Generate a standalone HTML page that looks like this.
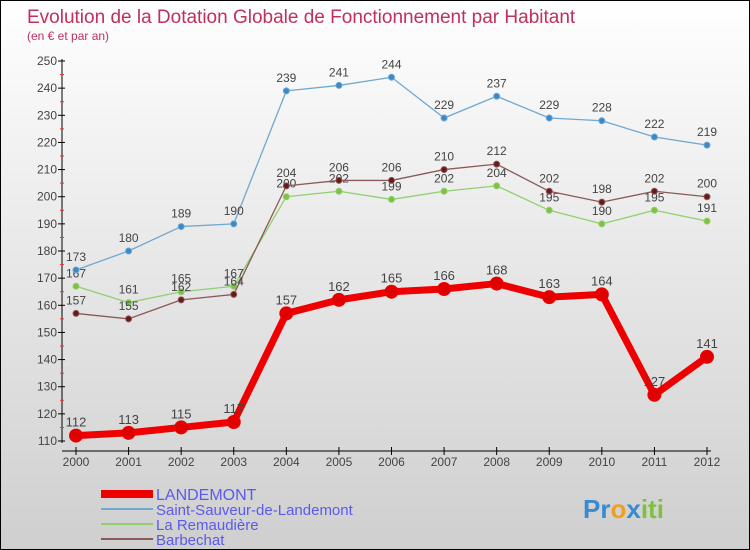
<!DOCTYPE html>
<html><head><meta charset="utf-8"><style>
body{margin:0}
#c{width:750px;height:550px;position:relative;box-sizing:border-box;border:1px solid #000;background:linear-gradient(#fff,#f0f0f0 30%,#cfcfcf);font-family:"Liberation Sans",sans-serif;overflow:hidden}
</style></head><body>
<div id="c">
<svg id="s" width="750" height="550" style="position:absolute;left:0;top:0">
<text x="26" y="22" font-size="19" fill="#c0305a">Evolution de la Dotation Globale de Fonctionnement par Habitant</text>
<text x="26" y="39" font-size="12" fill="#c0305a">(en € et par an)</text>
<line x1="61" y1="58" x2="61" y2="442" stroke="#000"/>
<line x1="61" y1="450" x2="710" y2="450" stroke="#000"/>
<g id="ax"></g><g id="series"></g>
<g>
<rect x="100" y="489" width="52" height="8" fill="#e00"/>
<text x="155" y="499" font-size="16" fill="#5a5aee">LANDEMONT</text>
<line x1="100" y1="508" x2="152" y2="508" stroke="#6fa8d0" stroke-width="2"/>
<text x="155" y="514" font-size="15" fill="#5a5aee">Saint-Sauveur-de-Landemont</text>
<line x1="100" y1="523" x2="152" y2="523" stroke="#90d070" stroke-width="2"/>
<text x="155" y="529" font-size="15" fill="#5a5aee">La Remaudière</text>
<line x1="100" y1="538" x2="152" y2="538" stroke="#8a5a5a" stroke-width="2"/>
<text x="155" y="544" font-size="15" fill="#5a5aee">Barbechat</text>
</g>
<text x="582" y="517" font-size="26" font-weight="bold"><tspan fill="#3a8ad0">Pr</tspan><tspan fill="#f0a020">o</tspan><tspan fill="#3a8ad0">x</tspan><tspan fill="#80c040">iti</tspan></text>
</svg>
</div>
<script>
const years=[2000,2001,2002,2003,2004,2005,2006,2007,2008,2009,2010,2011,2012];
const yTicks=[110,120,130,140,150,160,170,180,190,200,210,220,230,240,250];
const landemont=[112,113,115,117,157,162,165,166,168,163,164,127,141];
const saintSauveur=[173,180,189,190,239,241,244,229,237,229,228,222,219];
const remaudiere=[167,161,165,167,200,202,199,202,204,195,190,195,191];
const barbechat=[157,155,162,164,204,206,206,210,212,202,198,202,200];
const NS="http://www.w3.org/2000/svg";
const X=i=>75+i*(631/(years.length-1));
const Y=v=>440-(v-110)*380/140;
const ax=document.getElementById('ax'),sg=document.getElementById('series');
function mk(t,a,p){const e=document.createElementNS(NS,t);for(const k in a)e.setAttribute(k,a[k]);p.appendChild(e);return e;}
yTicks.forEach(v=>{
 const l=mk('line',{x1:57,x2:64,y1:Y(v),y2:Y(v),stroke:'#000'},ax);
 
 
 const t=mk('text',{x:56,y:Y(v)+4,'font-size':12,fill:'#444','text-anchor':'end'},ax);t.textContent=v;
 
 
 if(v<250){const m=mk('line',{x1:59,x2:63,y1:Y(v+5),y2:Y(v+5),stroke:'#e33'},ax);
 
 }
});
years.forEach((y,i)=>{
 const l=mk('line',{x1:X(i),x2:X(i),y1:446,y2:454,stroke:'#000'},ax);
 
 
 const t=mk('text',{x:X(i),y:465,'font-size':12,fill:'#444','text-anchor':'middle'},ax);t.textContent=y;
 
 
});
function series(d,name,col,dot,w,r,fs){
 const g=mk('g',{},sg);
 
 
 const pl=mk('polyline',{points:d.map((v,i)=>X(i)+','+Y(v)).join(' '),fill:'none',stroke:col,'stroke-width':w,'stroke-linejoin':'round'},g);
 
 
 d.forEach((v,i)=>{
  const c=mk('circle',{cx:X(i),cy:Y(v),r:r,fill:dot,stroke:col,'stroke-width':1},g);
  
  
  const t=mk('text',{x:X(i),y:Y(v)-9,'font-size':fs,fill:'#444','text-anchor':'middle'},g);t.textContent=v;
  
  
 });
}
series(remaudiere,'la-remaudiere','#90d070','#80c040',1.3,3,12);
series(barbechat,'barbechat','#8a5a5a','#6a1818',1.3,3,12);
series(saintSauveur,'saint-sauveur','#6fa8d0','#3a88c8',1.3,3,12);
series(landemont,'landemont','#ee0000','#e00000',7,6.5,13);
</script>
</body></html>
